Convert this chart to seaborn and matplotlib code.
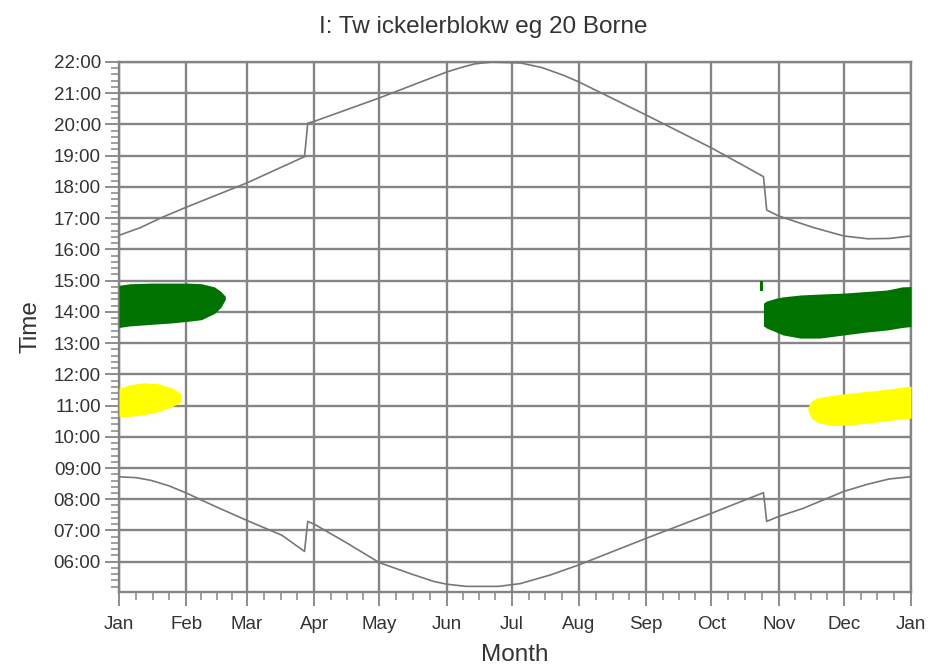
import seaborn as sns
import matplotlib.pyplot as plt
import matplotlib.ticker as mticker

# month starts (day of year) and labels
month_days = [0, 31, 59, 90, 120, 151, 181, 212, 243, 273, 304, 334, 365]
month_labels = ["Jan", "Feb", "Mar", "Apr", "May", "Jun", "Jul",
                "Aug", "Sep", "Oct", "Nov", "Dec", "Jan"]

# sunset (day, hour) incl. DST jumps
sunset_day = [0, 10, 19, 31, 59, 85.5, 87, 90, 120, 151, 158, 164, 172, 185,
              195, 205, 212, 243, 273, 290, 297, 298.5, 304, 320, 334, 345,
              355, 365]
sunset_hr = [16.45, 16.7, 17.0, 17.35, 18.13, 18.97, 20.04, 20.1, 20.85, 21.68,
             21.83, 21.94, 22.0, 21.97, 21.82, 21.57, 21.36, 20.3, 19.25, 18.6,
             18.33, 17.26, 17.07, 16.7, 16.43, 16.34, 16.35, 16.43]

# sunrise (day, hour)
sunrise_day = [0, 8, 15, 23, 31, 45, 60, 75, 85.5, 87, 90, 105, 120, 135, 145,
               151, 160, 175, 185, 199, 212, 243, 273, 297, 298.5, 304, 315,
               334, 345, 355, 365]
sunrise_hr = [8.72, 8.69, 8.6, 8.43, 8.2, 7.75, 7.29, 6.85, 6.33, 7.29, 7.2,
              6.6, 5.97, 5.6, 5.37, 5.28, 5.21, 5.21, 5.3, 5.58, 5.9, 6.75,
              7.55, 8.21, 7.29, 7.45, 7.7, 8.25, 8.48, 8.65, 8.72]

# shadow periods (green)
green1_day = [0, 5, 15, 25, 32, 38, 44, 47, 49]
green1_lo = [13.5, 13.55, 13.6, 13.65, 13.7, 13.75, 13.95, 14.15, 14.4]
green1_hi = [14.85, 14.9, 14.92, 14.92, 14.92, 14.9, 14.8, 14.65, 14.5]

green2_day = [297, 298.5, 303, 306, 314, 323, 334, 344, 354, 361, 365]
green2_lo = [13.55, 13.48, 13.35, 13.26, 13.16, 13.16, 13.26, 13.35, 13.42, 13.5, 13.53]
green2_hi = [14.28, 14.35, 14.44, 14.48, 14.54, 14.57, 14.6, 14.65, 14.7, 14.8, 14.81]

green3_day = [295.6, 297.0]
green3_lo = [14.66, 14.66]
green3_hi = [15.0, 15.0]

# shadow periods (yellow)
yellow1_day = [0, 4, 11, 18, 24, 28.5]
yellow1_lo = [10.65, 10.65, 10.7, 10.8, 10.95, 11.1]
yellow1_hi = [11.55, 11.65, 11.73, 11.7, 11.58, 11.4]

yellow2_day = [317.5, 319, 322, 329, 337, 344, 351, 358, 365]
yellow2_lo = [10.85, 10.6, 10.45, 10.36, 10.38, 10.43, 10.49, 10.55, 10.6]
yellow2_hi = [10.95, 11.15, 11.25, 11.33, 11.4, 11.45, 11.5, 11.56, 11.62]

hours = list(range(6, 23))

sns.set_style("white")
plt.rcParams['font.family'] = ['Liberation Sans', 'DejaVu Sans']

fig = plt.figure(figsize=(9.3, 6.64), dpi=100)
ax = fig.add_axes([119 / 930, 1 - 592 / 664, (911 - 119) / 930, (592 - 62) / 664])

gcol = "#858585"
for d, lo, hi in [(green1_day, green1_lo, green1_hi), (green2_day, green2_lo, green2_hi),
                  (green3_day, green3_lo, green3_hi)]:
    ax.fill_between(d, lo, hi, color="#007200", linewidth=0, zorder=3)
for d, lo, hi in [(yellow1_day, yellow1_lo, yellow1_hi), (yellow2_day, yellow2_lo, yellow2_hi)]:
    ax.fill_between(d, lo, hi, color="#ffff00", linewidth=0, zorder=3)

sns.lineplot(x=sunset_day, y=sunset_hr, ax=ax, color="#777777", linewidth=1.2,
             estimator=None, sort=False, zorder=4)
sns.lineplot(x=sunrise_day, y=sunrise_hr, ax=ax, color="#777777", linewidth=1.2,
             estimator=None, sort=False, zorder=4)

ax.set_xlim(0, 365)
ax.set_ylim(5.03, 22.0)

ax.set_xticks(month_days)
ax.set_xticklabels(month_labels)
minor_x = []
for a, b in zip(month_days[:-1], month_days[1:]):
    minor_x += [a + (b - a) * k / 4 for k in (1, 2, 3)]
ax.xaxis.set_minor_locator(mticker.FixedLocator(minor_x))

ax.set_yticks(hours)
ax.set_yticklabels([f"{h:02d}:00" for h in hours])
ax.yaxis.set_minor_locator(mticker.MultipleLocator(0.2))

ax.grid(True, which="major", color=gcol, linewidth=1.7, zorder=1)
ax.set_axisbelow(True)
for s in ax.spines.values():
    s.set_color(gcol)
    s.set_linewidth(1.7)

ax.tick_params(which="major", direction="out", length=10, width=1.3, color=gcol,
               labelsize=13.5, labelcolor="#333333", pad=3,
               bottom=True, left=True)
ax.tick_params(which="minor", direction="out", length=6, width=1.1, color=gcol,
               bottom=True, left=True)
ax.tick_params(axis="x", which="major", pad=7)

ax.set_xlabel("Month", fontsize=17.5, color="#333333", labelpad=8)
ax.set_ylabel("Time", fontsize=17.5, color="#333333", labelpad=9)

fig.text(483 / 930, 1 - 27 / 664, "I: Tw ickelerblokw eg 20 Borne", fontsize=17.5,
         color="#333333", ha="center", va="center")

fig.savefig("out.png", dpi=100)
